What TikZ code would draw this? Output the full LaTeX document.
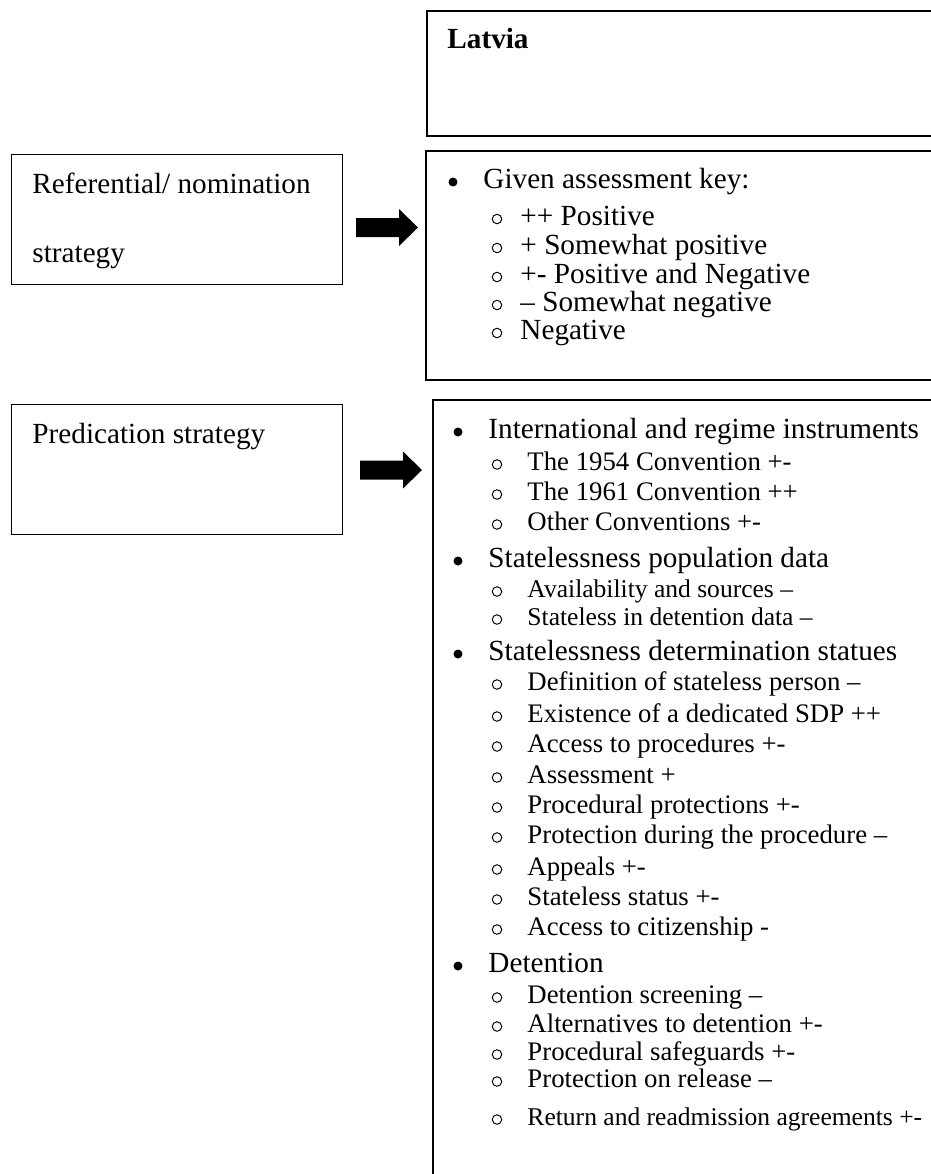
\documentclass[tikz,border=0pt]{standalone}
\usepackage{fontspec}
\setmainfont{Liberation Serif}

\tikzset{
  box/.style={draw, line width=0.8pt, rectangle, inner sep=0pt, anchor=north west},
  txt/.style={anchor=base west, inner sep=0pt, font=\fontsize{12}{14}\selectfont},
  subtxt/.style={txt, font=\fontsize{11}{13}\selectfont},
  smalltxt/.style={txt, font=\fontsize{10.5}{12}\selectfont},
  dot/.style={circle, fill, inner sep=0pt, minimum size=3.7pt},
  ring/.style={circle, draw, line width=0.4pt, inner sep=0pt, minimum size=3.9pt},
}

\begin{document}
\begin{tikzpicture}[x=0.411pt, y=-0.411pt]
			\clip (0,0) rectangle (931,1174);
			
			% boxes
			\node[box, minimum width=219.5pt, minimum height=51.4pt] (latvia) at (426,10) {};
			\node[box, minimum width=219.9pt, minimum height=94.1pt] (keybox) at (425,150) {};
			\node[box, minimum width=217pt, minimum height=329.2pt] (predlist) at (432,399) {};
			\node[box, line width=0.6pt, minimum width=136pt, minimum height=53.4pt] (refbox) at (11,154) {};
			\node[box, line width=0.6pt, minimum width=136pt, minimum height=53.4pt] (predbox) at (11,404) {};
			
			\node[txt, font=\bfseries\fontsize{12}{14}\selectfont] (latviatxt) at (447,48) {Latvia};
			\node[txt] (reftxt) at (32,193) {Referential/ nomination};
			\node[txt] (reftxtb) at (32,262) {strategy};
			\node[txt] (predtxt) at (32,443) {Predication strategy};
			
			% block arrows
			\foreach \n/\ax/\ay in {refarrow/356/227.5, predarrow/360/470}{
				\coordinate (\n) at (\ax,\ay);
				\fill (\n) ++(0,-9.5) -- ++(43,0) -- ++(0,-9) -- ++(19,18.5)
					-- ++(-19,18.5) -- ++(0,-9) -- ++(-43,0) -- cycle;
			}
			
			% assessment key
			\node[dot] (keydot) at (453,182) {};
			\node[txt] (key0) at (483,188) {Given assessment key:};
			\foreach \y/\t [count=\i] in {225/++ Positive, 254/+ Somewhat positive,
				283/+- Positive and Negative, 311/– Somewhat negative, 339/Negative}{
				\node[ring] (keyring\i) at (497,\y-6) {};
				\node[txt] (key\i) at (520,\y) {\t};
			}
			
			% predication items
			\foreach \y/\t [count=\i] in {438/International and regime instruments,
				567/Statelessness population data, 660/Statelessness determination statues,
				972/Detention}{
				\node[dot] (headdot\i) at (458,\y-6) {};
				\node[txt] (head\i) at (488,\y) {\t};
			}
			\foreach \y/\s/\t [count=\i] in {470/subtxt/The 1954 Convention +-,
				500/subtxt/The 1961 Convention ++, 530/subtxt/Other Conventions +-,
				597/smalltxt/Availability and sources –, 625/smalltxt/Stateless in detention data –,
				690/subtxt/Definition of stateless person –, 722/subtxt/Existence of a dedicated SDP ++,
				752/subtxt/Access to procedures +-, 783/subtxt/Assessment +,
				813/subtxt/Procedural protections +-, 843/subtxt/Protection during the procedure –,
				875/subtxt/Appeals +-, 905/subtxt/Stateless status +-,
				935/subtxt/Access to citizenship -, 1003/subtxt/Detention screening –,
				1032/subtxt/Alternatives to detention +-, 1060/subtxt/Procedural safeguards +-,
				1087/subtxt/Protection on release –, 1125/smalltxt/Return and readmission agreements +-}{
				\node[ring] (ring\i) at (497,\y-5.5) {};
				\node[\s] (item\i) at (527,\y) {\t};
			}
		\end{tikzpicture}
\end{document}
